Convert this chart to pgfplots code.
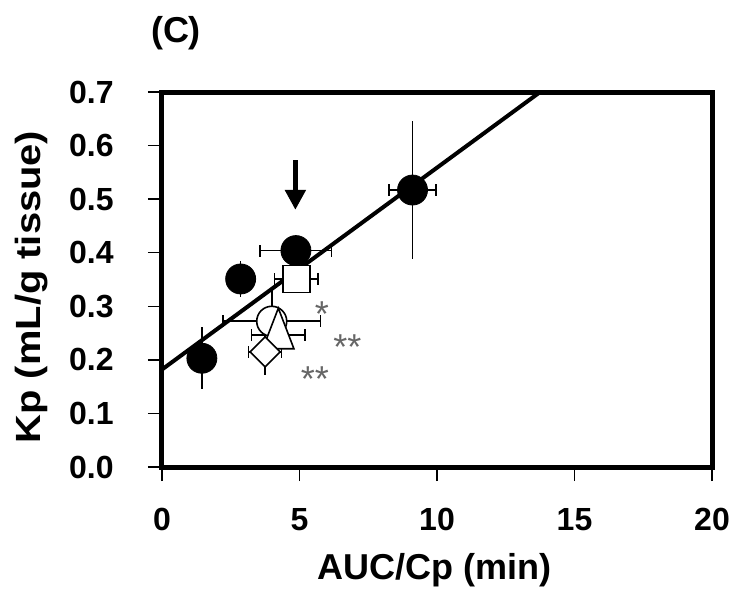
\documentclass[border=0pt]{standalone}
\usepackage{fontspec}
\setmainfont{Liberation Sans}
\newfontfamily\ylabfont[FakeStretch=1.14]{Liberation Sans}
\usepackage{pgfplots}
\usepackage{pgfplotstable}
\pgfplotsset{compat=1.18}
\usetikzlibrary{arrows.meta}

% filled circles
\pgfplotstableread{
x y ex ey
1.45 0.203 0 0.058
2.86 0.351 0 0.033
4.87 0.404 1.3 0
9.11 0.517 0.85 0.128
}\filled
% open symbols
\pgfplotstableread{
x y ex ey
3.99 0.272 1.77 0.058
}\ocircle
\pgfplotstableread{
x y ex ey
4.23 0.246 0.98 0
}\otriangle
\pgfplotstableread{
x y ex ey
3.75 0.215 0.6 0.043
}\odiamond
\pgfplotstableread{
x y ex ey
4.88 0.351 0.79 0
}\osquare

% y error bars without caps, x error bars with caps
\newcommand{\errbars}[1]{%
  \addplot[black, only marks, mark=none, forget plot,
    error bars/.cd, y dir=both, y explicit, error mark=none,
    error bar style={line width=0.8pt}]
    table[x=x, y=y, y error=ey] {#1};
  \addplot[black, only marks, mark=none, forget plot,
    error bars/.cd, x dir=both, x explicit, error mark=|,
    error mark options={mark size=3pt, line width=0.8pt},
    error bar style={line width=0.8pt}]
    table[x=x, y=y, x error=ex] {#1};
}

\begin{document}
\begin{tikzpicture}
\path[use as bounding box] (-81pt,-64pt) rectangle (284.5pt,233.5pt);
\begin{axis}[
  at={(0pt,0pt)}, anchor=south west,
  width=275pt, height=187.5pt, scale only axis,
  xmin=0, xmax=20, ymin=0, ymax=0.7,
  xtick={0,5,10,15,20},
  ytick={0,0.1,0.2,0.3,0.4,0.5,0.6,0.7},
  axis line style={line width=2.5pt},
  tick align=outside, major tick length=7pt,
  tick pos=left,
  tick style={black, line width=0.7pt},
  tick label style={font=\fontsize{16}{16}\selectfont\bfseries, inner sep=0pt},
  yticklabel style={anchor=east, xshift=-17pt},
  xticklabel style={anchor=north, yshift=-13.5pt},
  yticklabel style={/pgf/number format/.cd, fixed, fixed zerofill, precision=1},
  /pgf/number format/assume math mode=true,
  xlabel={AUC/Cp (min)},
  ylabel={Kp (mL/g tissue)},
  xlabel style={font=\fontsize{18}{18}\selectfont\bfseries, at={(axis description cs:0.496,-0.275)}, anchor=center},
  ylabel style={font=\fontsize{17.5}{17.5}\ylabfont\bfseries, at={(axis description cs:-0.238,0.48)}, anchor=center},
  clip=false,
]
% regression line
\addplot[black, line width=2pt] coordinates {(0,0.182) (13.75,0.7)};

\errbars{\filled}
\errbars{\ocircle}
\errbars{\otriangle}
\errbars{\odiamond}
\errbars{\osquare}

% open symbols
\addplot[only marks, mark=*, mark size=7.5pt, mark options={draw=black, fill=white, line width=0.8pt}] table[x=x, y=y] {\ocircle};
\addplot[only marks, mark=triangle*, mark size=9pt, mark options={draw=black, fill=white, line width=0.8pt, yscale=1.5}] table[x=x, y=y] {\otriangle};
\addplot[only marks, mark=square*, mark size=5.3pt, mark options={draw=black, fill=white, line width=0.8pt, rotate=45}] table[x=x, y=y] {\odiamond};
\addplot[only marks, mark=square*, mark size=6.75pt, mark options={draw=black, fill=white, line width=0.8pt}] table[x=x, y=y] {\osquare};
% filled circles
\addplot[only marks, mark=*, mark size=7.5pt, mark options={draw=black, fill=black}] table[x=x, y=y] {\filled};

% arrow
\draw[line width=2.5pt, -{Triangle[length=10pt, width=10pt]}] (axis cs:4.85,0.573) -- (axis cs:4.85,0.48);

% significance marks
\node[text=black!60, font=\fontsize{18}{18}\selectfont, anchor=base, yshift=-10pt] at (axis cs:5.81,0.299) {*};
\node[text=black!60, font=\fontsize{18}{18}\selectfont, anchor=base, yshift=-10pt] at (axis cs:6.74,0.238) {**};
\node[text=black!60, font=\fontsize{18}{18}\selectfont, anchor=base, yshift=-10pt] at (axis cs:5.56,0.178) {**};
\end{axis}
\node[font=\fontsize{18}{18}\selectfont\bfseries] at (7pt,217pt) {(C)};
\end{tikzpicture}
\end{document}
